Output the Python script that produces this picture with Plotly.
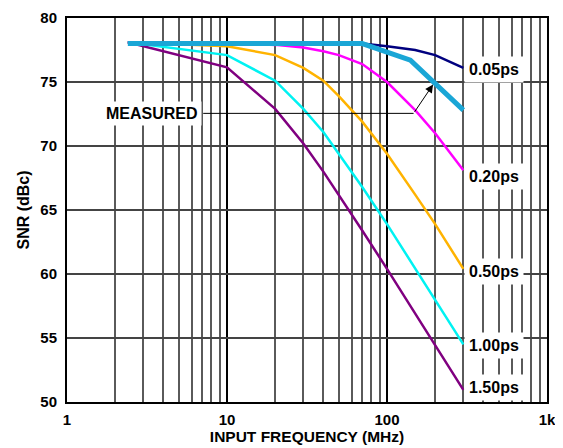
import numpy as np
import plotly.graph_objects as go

# ---- data ----
freq_mhz = [2.4, 10, 20, 30, 40, 50, 70, 100, 150, 200, 300]
snr_005ps = [78.1, 78.1, 78.1, 78.1, 78.1, 78.05, 78.0, 77.8, 77.5, 77.1, 76.1]
snr_020ps = [78.1, 78.05, 77.9, 77.7, 77.4, 77.1, 76.4, 75.0, 72.8, 71.0, 68.1]
snr_050ps = [78.1, 77.8, 77.1, 76.1, 75.1, 73.9, 71.9, 69.4, 66.2, 63.9, 60.4]
snr_100ps = [78.1, 77.1, 75.1, 72.9, 71.1, 69.4, 66.8, 63.9, 60.4, 58.0, 54.5]
snr_150ps = [78.1, 76.15, 72.9, 70.2, 68.0, 66.2, 63.4, 60.4, 56.9, 54.45, 50.95]

measured_freq = [2.4, 70, 140, 200, 300]
measured_snr = [78.0, 78.0, 76.7, 74.9, 72.8]

series_labels = ["0.05ps", "0.20ps", "0.50ps", "1.00ps", "1.50ps"]
label_y = [76.0, 67.6, 60.2, 54.4, 51.1]

x_tickvals = [1, 10, 100, 1000]
x_ticktext = ["1", "10", "100", "1k"]
y_tickvals = [50, 55, 60, 65, 70, 75, 80]

# annotation anchors for the "MEASURED" callout
measured_text_f = 3.4
measured_text_snr = 72.55
leader_start_f = 7.1
leader_elbow_f = 146.6
arrow_tip_f = 194.0
arrow_tip_snr = 74.8

FONT = "Liberation Sans, Arial, sans-serif"

series = [
    (snr_150ps, "#800080"),
    (snr_100ps, "#00F2F2"),
    (snr_050ps, "#FFB300"),
    (snr_020ps, "#FF00FF"),
    (snr_005ps, "#00007F"),
]

fig = go.Figure()
for vals, col in series:
    fig.add_trace(go.Scatter(x=freq_mhz, y=vals, mode="lines",
                             line=dict(color=col, width=2.5), showlegend=False,
                             hoverinfo="skip"))
fig.add_trace(go.Scatter(x=measured_freq, y=measured_snr, mode="lines",
                         line=dict(color="#1AA6D6", width=5), showlegend=False,
                         hoverinfo="skip"))

for lab, ly in zip(series_labels, label_y):
    fig.add_annotation(x=np.log10(freq_mhz[-1]), y=ly, xref="x", yref="y",
                       text=lab, showarrow=False, xanchor="left", yanchor="middle",
                       xshift=1, bgcolor="white", borderpad=4,
                       font=dict(family=FONT, size=16, color="black", weight="bold"))

# MEASURED callout
fig.add_shape(type="line", xref="x", yref="y",
              x0=leader_start_f, x1=leader_elbow_f,
              y0=measured_text_snr, y1=measured_text_snr,
              line=dict(color="black", width=1))
fig.add_annotation(x=np.log10(measured_text_f), y=measured_text_snr, xref="x", yref="y",
                   text="MEASURED", showarrow=False, xanchor="center", yanchor="middle",
                   bgcolor="white", borderpad=3,
                   font=dict(family=FONT, size=16, color="black", weight="bold"))
fig.add_annotation(x=np.log10(arrow_tip_f), y=arrow_tip_snr, xref="x", yref="y",
                   ax=np.log10(leader_elbow_f), ay=measured_text_snr, axref="x", ayref="y",
                   text="", showarrow=True, arrowhead=2, arrowsize=1.6, arrowwidth=1,
                   arrowcolor="black", standoff=0)

fig.update_xaxes(type="log", range=[0, 3], tickvals=x_tickvals, ticktext=x_ticktext,
                 showgrid=True, gridcolor="black", gridwidth=2,
                 minor=dict(dtick="D1", showgrid=True, gridcolor="#5a5a5a", gridwidth=1.5,
                            ticks=""),
                 showline=True, mirror=True, linecolor="black", linewidth=2,
                 ticks="", ticklabelstandoff=3, zeroline=False, automargin=False,
                 tickfont=dict(family=FONT, size=15, color="black", weight="bold"),
                 title=dict(text="INPUT FREQUENCY (MHz)", standoff=2,
                            font=dict(family=FONT, size=15.5, color="black", weight="bold")))
fig.update_yaxes(range=[50, 80], tickvals=y_tickvals,
                 showgrid=True, gridcolor="#444444", gridwidth=2,
                 showline=True, mirror=True, linecolor="black", linewidth=2,
                 ticks="", ticklabelstandoff=5, zeroline=False, automargin=False,
                 tickfont=dict(family=FONT, size=15, color="black", weight="bold"),
                 title=dict(text="SNR (dBc)", standoff=7,
                            font=dict(family=FONT, size=16, color="black", weight="bold")))

fig.update_layout(width=555, height=440,
                  margin=dict(l=59, r=16, t=10, b=46),
                  paper_bgcolor="white", plot_bgcolor="white",
                  font=dict(family=FONT))

fig.write_html("out.html")
